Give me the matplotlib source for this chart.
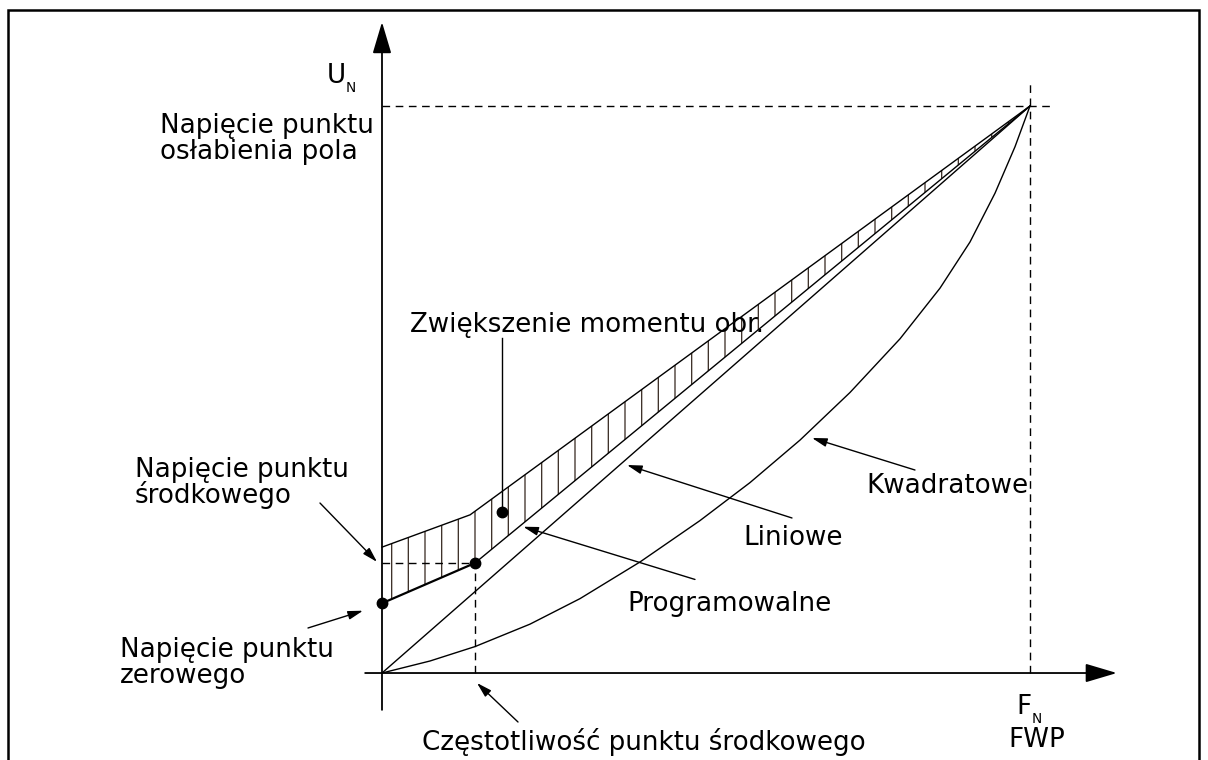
import matplotlib
matplotlib.use("Agg")
import matplotlib.pyplot as plt
from matplotlib.patches import Rectangle

# Frequency and voltage in % of the field weakening point (F_N, U_N).
f_fwp, u_fwp = 100, 100
u_zero = 12.3                      # zero point voltage
f_mid, u_mid = 14.35, 19.4         # midpoint frequency / voltage
boost_f = [0, 13.6, 100]           # upper edge of the torque boost band
boost_u = [22.2, 27.9, 100]
prog_f = [0, f_mid, 100]           # programmable U/f curve
prog_u = [u_zero, u_mid, 100]
lin_f = [0, 100]                   # linear U/f curve
lin_u = [0, 100]
quad_f = [0, 7.41, 14.35, 22.84, 30.56, 39.81, 49.07, 56.79, 64.51,
          72.22, 79.94, 86.11, 90.74, 94.60, 97.69, 100]
quad_u = [0, 2.12, 4.66, 8.62, 13.12, 19.58, 26.88, 33.58, 41.08,
          49.47, 58.94, 67.87, 76.01, 84.62, 92.82, 100]
torque_f, torque_u = 18.5, 28.4    # torque boost marker

FS = 18.8
DASH = (0, (5.5, 4))
HATCH_COLOR = "#3f322a"
plt.rcParams["hatch.linewidth"] = 0.95

fig = plt.figure(figsize=(12.08, 7.6), dpi=100)
ax = fig.add_axes([0, 0, 1, 1])
ax.set_xlim(-58.95, 127.47)
ax.set_ylim(-15.34, 118.69)
ax.axis("off")

# frame round the whole drawing
fig.add_artist(Rectangle((8 / 1208, -0.05), 1191 / 1208, 750 / 760 + 0.05,
                         transform=fig.transFigure, fill=False, lw=1.8, color="black"))


def arrow(start, tip, lw=1.0, style="-|>,head_length=0.9,head_width=0.26"):
    ax.annotate("", xy=tip, xytext=start,
                arrowprops=dict(arrowstyle=style, mutation_scale=10, lw=lw,
                                color="black", shrinkA=0, shrinkB=0))


def label(x, y, lines, size=FS, pitch=4.6):
    for i, s in enumerate(lines):
        ax.text(x, y - i * pitch, s, fontsize=size, ha="left", va="baseline", color="black")


# axes with arrow heads
axis_style = "-|>,head_length=1.95,head_width=0.58"
arrow((0, -6.5), (0, 114.8), lw=1.3, style=axis_style)
arrow((-2.6, 0), (113.4, 0), lw=1.3, style=axis_style)

# dashed guide lines
ax.plot([0, 103.5], [u_fwp, u_fwp], color="black", lw=1.0, ls=DASH)
ax.plot([f_fwp, f_fwp], [0, 104.6], color="black", lw=1.0, ls=DASH)
ax.plot([0, f_mid], [u_mid, u_mid], color="black", lw=1.0, ls=DASH)
ax.plot([f_mid, f_mid], [0, u_mid], color="black", lw=1.0, ls=DASH)

# hatched torque boost band
band_f = boost_f + prog_f[::-1]
band_u = boost_u + prog_u[::-1]
ax.fill(band_f, band_u, facecolor="none", edgecolor=HATCH_COLOR, lw=0, hatch="|")
ax.plot(boost_f, boost_u, color="black", lw=1.0)

# curves
ax.plot(prog_f[:2], prog_u[:2], color="black", lw=1.6)
ax.plot(prog_f[1:], prog_u[1:], color="black", lw=1.0)
ax.plot(lin_f, lin_u, color="black", lw=1.0)
ax.plot(quad_f, quad_u, color="black", lw=1.0)

# points
ax.plot([0, f_mid, torque_f], [u_zero, u_mid, torque_u], "o", color="black", ms=7.5)
ax.plot([torque_f, torque_f], [torque_u, 59.1], color="black", lw=1.0)

# texts
ax.text(-8.49, 104.06, "U", fontsize=FS, ha="left", va="baseline")
ax.text(-5.6, 102.5, "N", fontsize=9.8, ha="left", va="baseline")
label(-34.26, 95.2, ["Napięcie punktu", "osłabienia pola"])
label(-38.1, 34.6, ["Napięcie punktu", "środkowego"])
label(-40.43, 2.82, ["Napięcie punktu", "zerowego"])
label(4.32, 60.1, ["Zwiększenie momentu obr."])
label(55.7, 22.6, ["Liniowe"])
label(37.8, 10.9, ["Programowalne"])
label(74.8, 31.7, ["Kwadratowe"])
label(6.17, -13.58, ["Częstotliwość punktu środkowego"])
ax.text(97.9, -7.23, "F", fontsize=FS, ha="left", va="baseline")
ax.text(100.2, -8.8, "N", fontsize=9.8, ha="left", va="baseline")
label(96.6, -13.0, ["FWP"])

# callout arrows
arrow((-9.57, 29.98), (-0.77, 19.6))
arrow((-11.42, 7.94), (-2.93, 10.99))
arrow((20.99, -8.64), (14.66, -1.76))
arrow((63.27, 27.34), (37.81, 36.68))
arrow((48.3, 16.5), (21.8, 25.8))
arrow((82.25, 35.8), (66.36, 41.45))

fig.savefig("out.png", dpi=100, facecolor="white")
